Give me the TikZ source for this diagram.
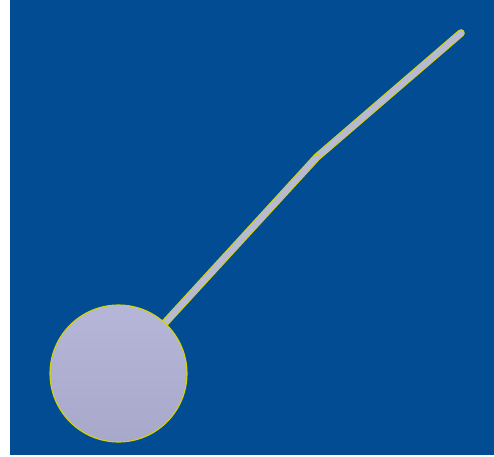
\documentclass[tikz,border=0pt]{standalone}
\definecolor{bgblue}{RGB}{1,76,146}
\definecolor{rodfill}{RGB}{184,184,216}
\definecolor{balltop}{RGB}{182,182,216}
\definecolor{ballbot}{RGB}{168,168,202}
\definecolor{edgey}{RGB}{212,212,0}
\begin{document}
\begin{tikzpicture}[x=1pt,y=1pt,
  rodedge/.style={draw=edgey,line width=7.6pt,line cap=round,line join=round},
  rodcore/.style={draw=rodfill,line width=5.6pt,line cap=round,line join=round},
  ballstyle/.style={circle,draw=edgey,line width=1.1pt,top color=balltop,bottom color=ballbot,minimum size=137pt,inner sep=0pt}]
\useasboundingbox (0,0) rectangle (494,456);
\fill[white] (0,0) rectangle (494,456);
\fill[bgblue] (10,1) rectangle (494,456);
\coordinate (bend) at (317,299);
\coordinate (tip) at (461,423);
\coordinate (center) at (118.5,82.5);
\draw[rodedge] (center) -- (bend) -- (tip);
\draw[rodcore] (center) -- (bend) -- (tip);
\draw[edgey,line width=1.2pt] (314.5,300.5) arc[start angle=150,end angle=60,radius=3pt];
\node[ballstyle] (ball) at (center) {};
\end{tikzpicture}
\end{document}
